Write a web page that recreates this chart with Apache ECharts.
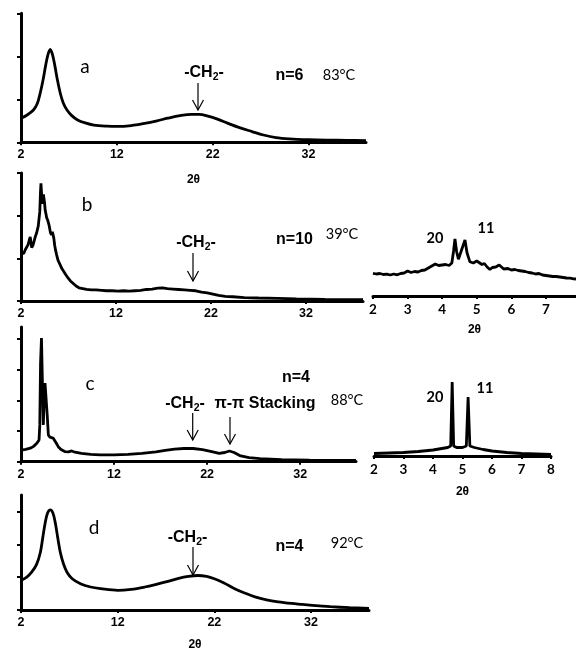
<!DOCTYPE html>
<html>
<head>
<meta charset="utf-8">
<script src="https://cdn.jsdelivr.net/npm/echarts@6/dist/echarts.min.js"></script>
<style>
html,body{margin:0;padding:0;background:#fff}
#chart{width:576px;height:652px}
</style>
</head>
<body>
<div id="chart"></div>
<script>
// ---- Diffraction patterns (2θ in degrees, intensity in arbitrary units) ----
const aX = [2, 2.6, 3.3, 3.7, 4.0, 4.3, 4.55, 4.8, 5.05, 5.3, 5.55, 5.8, 6.1, 6.4, 6.8, 7.3, 7.9, 8.7, 9.6, 11, 12, 13.5, 14.9, 16.2, 17.3, 18.6, 19.8, 20.6, 21.5, 22.5, 23.6, 24.8, 26.1, 27.3, 28.6, 30, 32, 34, 36, 38];
const aY = [0.56, 0.63, 0.75, 0.9, 1.14, 1.45, 1.76, 2.03, 2.16, 2.03, 1.76, 1.45, 1.14, 0.92, 0.75, 0.62, 0.52, 0.45, 0.4, 0.375, 0.37, 0.39, 0.44, 0.5, 0.56, 0.62, 0.65, 0.65, 0.61, 0.54, 0.44, 0.34, 0.25, 0.17, 0.11, 0.08, 0.06, 0.05, 0.045, 0.04];

const bX = [2.0, 2.15, 2.3, 2.45, 2.6, 2.75, 2.9, 2.97, 3.05, 3.12, 3.25, 3.4, 3.54, 3.65, 3.75, 3.82, 3.9, 3.98, 4.05, 4.1, 4.17, 4.23, 4.3, 4.36, 4.42, 4.48, 4.55, 4.62, 4.7, 4.8, 4.88, 4.95, 5.02, 5.1, 5.16, 5.22, 5.3, 5.36, 5.45, 5.55, 5.65, 5.75, 5.9, 6.1, 6.3, 6.45, 6.7, 6.95, 7.2, 7.5, 7.8, 8.1, 8.5, 8.9, 9.4, 9.9, 10.5, 11, 11.6, 12.2, 12.8, 13.4, 14, 14.6, 15.2, 15.8, 16.4, 16.9, 17.4, 18, 18.6, 19.2, 19.8, 20.4, 21, 21.6, 22.2, 22.8, 23.5, 24.3, 25.5, 27, 29, 31, 34, 38];
const bY = [1.1, 1.14, 1.12, 1.2, 1.24, 1.32, 1.45, 1.5, 1.38, 1.25, 1.3, 1.42, 1.53, 1.6, 1.62, 1.76, 1.8, 2.1, 2.55, 2.76, 2.5, 2.28, 2.35, 2.5, 2.52, 2.3, 2.12, 2.05, 1.95, 1.9, 1.84, 1.78, 1.7, 1.6, 1.57, 1.55, 1.62, 1.58, 1.48, 1.3, 1.18, 1.08, 0.95, 0.86, 0.76, 0.71, 0.62, 0.54, 0.47, 0.41, 0.35, 0.31, 0.29, 0.27, 0.26, 0.26, 0.25, 0.24, 0.24, 0.23, 0.24, 0.23, 0.24, 0.25, 0.27, 0.28, 0.3, 0.31, 0.29, 0.28, 0.27, 0.26, 0.25, 0.24, 0.21, 0.19, 0.16, 0.13, 0.11, 0.1, 0.08, 0.07, 0.06, 0.05, 0.04, 0.03];

const cX = [2.0, 2.5, 3.0, 3.35, 3.7, 3.94, 4.02, 4.1, 4.2, 4.3, 4.4, 4.5, 4.58, 4.72, 4.82, 4.94, 5.1, 5.3, 5.45, 5.6, 5.8, 6.0, 6.3, 6.7, 7.1, 7.45, 7.8, 8.5, 9.5, 10.5, 12, 13.5, 15, 16.5, 17.5, 18.5, 19.5, 20.5, 21.5, 22.5, 23.3, 23.9, 24.4, 24.9, 25.5, 26.5, 27.7, 30, 33, 38];
const cY = [0.38, 0.4, 0.44, 0.5, 0.6, 0.71, 1.2, 3.2, 4.03, 2.6, 1.2, 2.2, 2.56, 2.5, 1.5, 0.87, 0.8, 0.77, 0.77, 0.74, 0.6, 0.49, 0.4, 0.33, 0.32, 0.35, 0.31, 0.27, 0.24, 0.22, 0.22, 0.24, 0.27, 0.32, 0.37, 0.41, 0.43, 0.43, 0.39, 0.33, 0.27, 0.3, 0.35, 0.3, 0.2, 0.13, 0.1, 0.07, 0.05, 0.04];

const dX = [2, 2.6, 3.1, 3.6, 4.0, 4.25, 4.5, 4.75, 5.03, 5.3, 5.55, 5.8, 6.07, 6.4, 6.76, 7.3, 8.15, 9.2, 10.25, 12, 13.4, 14.8, 16, 17.2, 18.3, 19.3, 20.3, 21.2, 22, 23, 24.1, 25.2, 26.2, 27.4, 28.6, 30, 31.1, 32.5, 34, 36, 38];
const dY = [0.9, 1.0, 1.15, 1.38, 1.75, 2.2, 2.65, 2.95, 3.05, 2.95, 2.65, 2.2, 1.75, 1.4, 1.15, 0.95, 0.8, 0.7, 0.65, 0.6, 0.63, 0.7, 0.78, 0.87, 0.96, 1.02, 1.05, 1.02, 0.95, 0.82, 0.65, 0.51, 0.4, 0.31, 0.25, 0.2, 0.17, 0.13, 0.1, 0.07, 0.05];

// low-angle detail scans
const bInsetX = [2.0, 2.1, 2.2, 2.3, 2.4, 2.5, 2.6, 2.7, 2.8, 2.9, 3.0, 3.05, 3.1, 3.2, 3.3, 3.4, 3.5, 3.6, 3.7, 3.8, 3.9, 4.0, 4.05, 4.1, 4.2, 4.28, 4.33, 4.37, 4.42, 4.47, 4.52, 4.6, 4.66, 4.72, 4.8, 4.9, 5.0, 5.05, 5.15, 5.22, 5.3, 5.38, 5.45, 5.55, 5.65, 5.7, 5.78, 5.9, 6.0, 6.1, 6.2, 6.3, 6.4, 6.5, 6.6, 6.7, 6.8, 6.9, 7.0, 7.1, 7.2, 7.3, 7.4, 7.5, 7.6, 7.7, 7.8, 7.87];
const bInsetY = [2.27, 2.2, 2.25, 2.15, 2.18, 2.1, 2.2, 2.12, 2.25, 2.3, 2.5, 2.4, 2.35, 2.45, 2.4, 2.55, 2.6, 2.8, 3.0, 3.2, 3.05, 3.1, 3.0, 3.15, 3.05, 3.3, 4.5, 5.7, 4.4, 3.67, 3.8, 5.0, 5.6, 4.3, 3.43, 3.3, 3.5, 3.35, 3.15, 3.25, 2.9, 2.65, 2.85, 2.9, 3.1, 3.05, 2.7, 2.75, 2.6, 2.65, 2.55, 2.5, 2.45, 2.35, 2.3, 2.2, 2.25, 2.1, 2.05, 2.0, 1.95, 1.95, 1.9, 1.85, 1.8, 1.78, 1.72, 1.7];

const cInsetX = [2.0, 2.5, 3.0, 3.5, 4.0, 4.3, 4.5, 4.6, 4.65, 4.7, 4.8, 5.0, 5.13, 5.19, 5.25, 5.4, 5.7, 6.0, 6.5, 7.0, 7.5, 8.0];
const cInsetY = [0.25, 0.3, 0.35, 0.45, 0.6, 0.75, 0.85, 1.0, 7.4, 1.0, 0.85, 0.85, 1.0, 5.9, 1.0, 0.85, 0.65, 0.5, 0.35, 0.25, 0.2, 0.15];

const mainTicks = [2, 12, 22, 32];
const bInsetTicks = [2, 3, 4, 5, 6, 7];
const cInsetTicks = [2, 3, 4, 5, 6, 7, 8];
const axisTitle = '2θ';

// ---- layout ----
const INK = '#000';
const ARIAL = '"Liberation Sans", Arial, sans-serif';
const SOFT = 'Lato, "Open Sans", sans-serif';

const panels = [
  { key: 'a', x: aX, y: aY, grid: { left: 21, top: 13.3, width: 345, height: 129 }, xmax: 38, ymax: 3, yTicks: [0, 1, 2, 3], title: true, gap: 31 },
  { key: 'b', x: bX, y: bY, grid: { left: 21, top: 173, width: 342, height: 128 }, xmax: 38, ymax: 3, yTicks: [0, 1, 2, 3], title: false },
  { key: 'c', x: cX, y: cY, grid: { left: 21, top: 327, width: 335, height: 134.7 }, xmax: 38, ymax: 4.39, yTicks: [0, 1, 2, 3, 4], title: false },
  { key: 'd', x: dX, y: dY, grid: { left: 21, top: 495, width: 348, height: 116.7 }, xmax: 38, ymax: 3.5, yTicks: [0, 1, 2, 3], title: true, gap: 29 }
];
const insets = [
  { x: bInsetX, y: bInsetY, grid: { left: 373, top: 216, width: 203, height: 80 }, xmin: 2, xmax: 7.87, ticks: bInsetTicks, gap: 28 },
  { x: cInsetX, y: cInsetY, grid: { left: 374, top: 376, width: 177, height: 80 }, xmin: 2, xmax: 8, ticks: cInsetTicks, gap: 30 }
];

const grids = [], xAxes = [], yAxes = [], series = [];

panels.forEach((p, i) => {
  grids.push(Object.assign({ containLabel: false }, p.grid));
  xAxes.push({
    type: 'value', gridIndex: i, min: 2, max: p.xmax,
    axisLine: { show: true, onZero: false, lineStyle: { color: INK, width: 3 } },
    axisTick: { show: true, length: 3, lineStyle: { color: INK, width: 2 }, customValues: mainTicks },
    axisLabel: { show: true, customValues: mainTicks, color: INK, fontFamily: ARIAL, fontWeight: 'bold', fontSize: 12.5, margin: 6 },
    splitLine: { show: false },
    name: p.title ? axisTitle : '', nameLocation: 'middle', nameGap: p.gap || 30,
    nameTextStyle: { color: INK, fontFamily: ARIAL, fontWeight: 'bold', fontSize: 12 }
  });
  yAxes.push({
    type: 'value', gridIndex: i, min: 0, max: p.ymax,
    axisLine: { show: true, onZero: false, lineStyle: { color: INK, width: 3 } },
    axisTick: { show: true, length: 4, lineStyle: { color: INK, width: 2 }, customValues: p.yTicks },
    axisLabel: { show: false },
    splitLine: { show: false }
  });
  series.push({
    type: 'line', xAxisIndex: i, yAxisIndex: i,
    data: p.x.map((v, k) => [v, p.y[k]]),
    showSymbol: false, smooth: (p.key === 'a' || p.key === 'd') ? 0.35 : false,
    lineStyle: { color: INK, width: 2.8 }, z: 3, silent: true
  });
});

insets.forEach((s, j) => {
  const i = panels.length + j;
  grids.push(Object.assign({ containLabel: false }, s.grid));
  xAxes.push({
    type: 'value', gridIndex: i, min: s.xmin, max: s.xmax,
    axisLine: { show: true, onZero: false, lineStyle: { color: INK, width: 3 } },
    axisTick: { show: true, length: 3, lineStyle: { color: INK, width: 2 }, customValues: s.ticks },
    axisLabel: { show: true, customValues: s.ticks, color: INK, fontFamily: SOFT, fontWeight: 'bold', fontSize: 13.5, margin: 7 },
    splitLine: { show: false },
    name: axisTitle, nameLocation: 'middle', nameGap: s.gap,
    nameTextStyle: { color: INK, fontFamily: ARIAL, fontWeight: 'bold', fontSize: 12 }
  });
  yAxes.push({ type: 'value', gridIndex: i, min: 0, max: 8, show: false });
  series.push({
    type: 'line', xAxisIndex: i, yAxisIndex: i,
    data: s.x.map((v, k) => [v, s.y[k]]),
    showSymbol: false, smooth: false,
    lineStyle: { color: INK, width: 2.8 }, z: 3, silent: true
  });
});

// ---- annotations ----
function label(text, x, y, size, weight, family) {
  return { type: 'text', x: x, y: y, z: 10, silent: true,
    style: { text: text, fill: INK, fontSize: size, fontWeight: weight, fontFamily: family,
      align: 'center', verticalAlign: 'middle', textAlign: 'center', textVerticalAlign: 'middle' } };
}
function ch2(x, y) {
  return { type: 'text', x: x, y: y, z: 10, silent: true,
    style: { text: '{m|-CH}{s|2}{m|-}', fill: INK,
      align: 'center', verticalAlign: 'middle', textAlign: 'center', textVerticalAlign: 'middle',
      rich: {
        m: { fontSize: 16, fontWeight: 'bold', fontFamily: ARIAL, fill: INK, lineHeight: 19 },
        s: { fontSize: 10.5, fontWeight: 'bold', fontFamily: ARIAL, fill: INK, lineHeight: 19, verticalAlign: 'bottom', padding: [7, 0, 0, 0] }
      } } };
}
function arrow(x, y1, y2) {
  return { type: 'group', z: 10, silent: true, children: [
    { type: 'line', shape: { x1: x, y1: y1, x2: x, y2: y2 }, style: { stroke: INK, lineWidth: 1.2 } },
    { type: 'polyline', shape: { points: [[x - 5.5, y2 - 10], [x, y2], [x + 5.5, y2 - 10]] }, style: { stroke: INK, lineWidth: 1.2, fill: null } }
  ] };
}

const graphics = [
  label('a', 85, 67, 19, 'normal', SOFT),
  ch2(204, 73),
  arrow(198, 83, 110),
  label('n=6', 289.5, 76, 16, 'bold', ARIAL),
  label('83°C', 339, 75, 14.5, 'normal', SOFT),

  label('b', 87, 205, 19, 'normal', SOFT),
  ch2(196, 243),
  arrow(193, 253, 281),
  label('n=10', 294.5, 240, 16, 'bold', ARIAL),
  label('39°C', 342, 234, 14.5, 'normal', SOFT),
  label('20', 435, 238, 14.5, 'bold', SOFT),
  label('11', 486, 228, 14.5, 'bold', SOFT),

  label('c', 90, 384, 19, 'normal', SOFT),
  label('n=4', 296, 378, 16, 'bold', ARIAL),
  ch2(185, 404),
  label('π-π Stacking', 265, 404, 16, 'bold', ARIAL),
  arrow(192.7, 413, 440),
  arrow(230, 417, 444),
  label('88°C', 347, 400, 14.5, 'normal', SOFT),
  label('20', 435, 397, 14.5, 'bold', SOFT),
  label('11', 485, 388, 14.5, 'bold', SOFT),

  label('d', 94, 528, 19, 'normal', SOFT),
  ch2(187.5, 538),
  arrow(193, 547, 575),
  label('n=4', 289.5, 547, 16, 'bold', ARIAL),
  label('92°C', 347, 543, 14.5, 'normal', SOFT)
];

const chart = echarts.init(document.getElementById('chart'), null, { renderer: 'canvas', width: 576, height: 652 });
chart.setOption({
  backgroundColor: '#fff',
  animation: false,
  grid: grids,
  xAxis: xAxes,
  yAxis: yAxes,
  series: series,
  graphic: { elements: graphics }
});
</script>
</body>
</html>
